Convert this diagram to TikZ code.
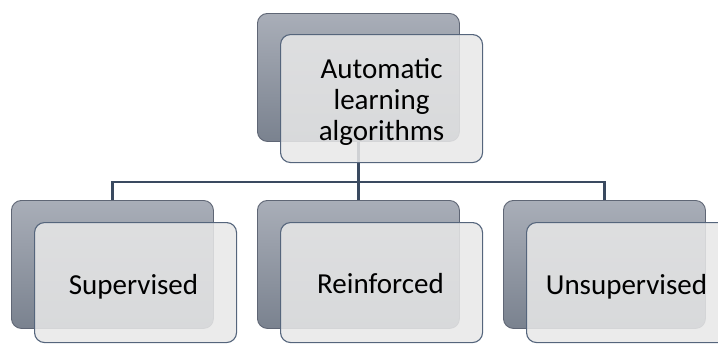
\documentclass[tikz,border=0pt]{standalone}
\usepackage{fontspec}
\setmainfont{Carlito}
\begin{document}
\begin{tikzpicture}[x=1pt,y=-1pt,
  backbox/.style={draw=backedge, line width=0.9pt, rounded corners=10pt,
    top color=backtop, bottom color=backbot, minimum width=202pt, minimum height=128pt,
    inner sep=0pt, anchor=north west},
  frontbox/.style={draw=frontedge, line width=1.1pt, rounded corners=10pt,
    fill=frontfill, fill opacity=0.86, draw opacity=1, minimum width=202pt, minimum height=128pt,
    inner sep=0pt, anchor=north west},
  label/.style={font=\fontsize{29}{31}\selectfont, text=black, align=center, text opacity=1},
  link/.style={draw=linkcol, line width=2.2pt}]
\definecolor{backtop}{HTML}{A9AEB8}
\definecolor{backbot}{HTML}{7A828F}
\definecolor{backedge}{HTML}{5F6675}
\definecolor{frontfill}{HTML}{E8E8E8}
\definecolor{frontedge}{HTML}{55657C}
\definecolor{linkcol}{HTML}{3A4A60}
\useasboundingbox (0,0) rectangle (718,343);
\clip (0,0) rectangle (718,343);
% back cards
\node[backbox] (rootB) at (257,13) {};
\node[backbox] (supB) at (11,200) {};
\node[backbox] (reiB) at (257,200) {};
\node[backbox] (unsB) at (503,200) {};
% tree connectors
\coordinate (bus) at (0,182);
\draw[link] (rootB.south) -- (rootB.south |- bus);
\draw[link] (supB.north) -- (supB.north |- bus) -- (unsB.north |- bus) -- (unsB.north);
\draw[link] (reiB.north) -- (reiB.north |- bus);
% front cards (the lower row ends at the page edge)
\node[frontbox] (root) at (280,34) {};
\node[frontbox, minimum height=120pt] (sup) at (34,222) {};
\node[frontbox, minimum height=120pt] (rei) at (280,222) {};
\node[frontbox, minimum height=120pt] (uns) at (526,222) {};
% labels
\node[label] (rootT) at ([yshift=-3pt]root.center) {Automatic\\learning\\algorithms};
\node[label, anchor=base] (supT) at (133.5,294) {Supervised};
\node[label, anchor=base] (reiT) at (380.5,293.5) {Reinforced};
\node[label, anchor=base] (unsT) at (626.5,294) {Unsupervised};
\end{tikzpicture}
\end{document}
